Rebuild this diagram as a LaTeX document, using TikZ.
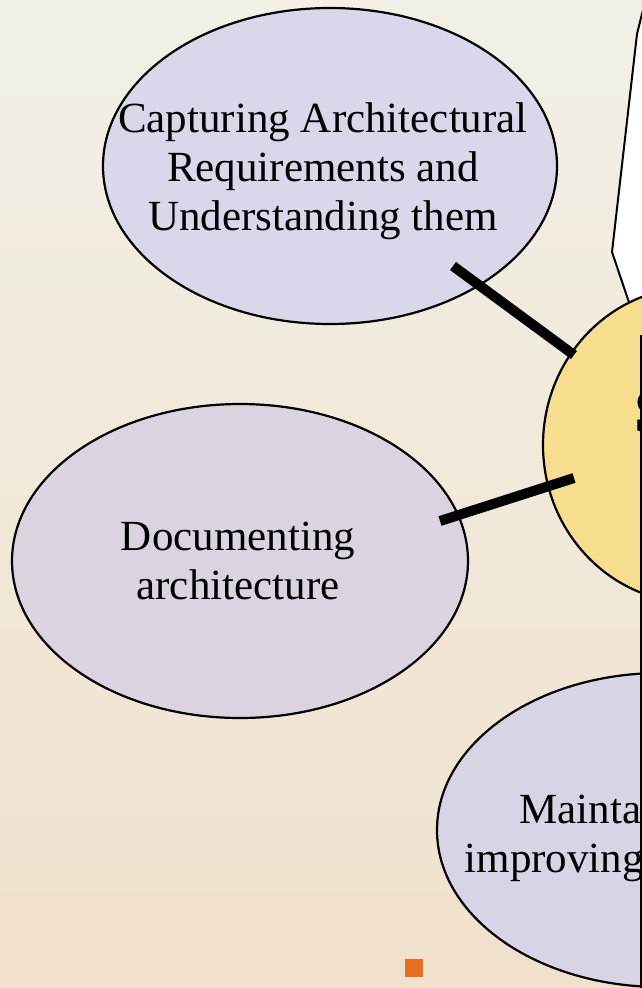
\documentclass[tikz,border=0pt]{standalone}
\usepackage{fontspec}
\setmainfont{Liberation Serif}
\usetikzlibrary{shapes.geometric}
\definecolor{bgtop}{HTML}{F2F0E7}
\definecolor{bgmid}{HTML}{EFE6D6}
\definecolor{bgbot}{HTML}{F0E1CD}
\definecolor{lavA}{HTML}{D9D7E9}
\definecolor{lavB}{HTML}{DCD3E0}
\definecolor{lavC}{HTML}{D9D4E5}
\definecolor{coreyellow}{HTML}{F7DD8E}
\definecolor{bulletorange}{HTML}{E4701E}
\begin{document}
\begin{tikzpicture}[x=1pt,y=-1pt,
  bubble/.style={ellipse, draw=black, line width=2.2pt, inner sep=0pt},
  bubbletext/.style={align=center, text=black, inner sep=0pt, font=\fontsize{43}{49}\selectfont},
  link/.style={line width=10pt, draw=black},
  edgeline/.style={line width=2pt, draw=black}]
\useasboundingbox (0,0) rectangle (642,988);
\clip (0,0) rectangle (642,988);
\shade[top color=bgtop, middle color=bgmid, bottom color=bgbot] (0,0) rectangle (642,988);

% white callout shape behind the core
\draw[edgeline, fill=white, line join=round] (646,-2) -- (637,34) -- (612,252) -- (640,335) -- (700,335) -- (700,-2) -- cycle;

% core bubble
\node[bubble, fill=coreyellow, minimum width=304, minimum height=316] (core) at (695,445) {};
\node[anchor=base west, inner sep=0pt, font=\fontsize{62}{70}\selectfont\bfseries] (coretitle) at (634,432) {Software};

% outer bubbles
\node[bubble, fill=lavA, minimum width=454, minimum height=316] (capture) at (330,166) {};
\node[bubbletext] (captureText) at (323,171) {Capturing Architectural\\Requirements and\\Understanding them};

\node[bubble, fill=lavB, minimum width=456, minimum height=314] (document) at (240,561) {};
\node[bubbletext] (documentText) at (238,561) {Documenting\\architecture};

\node[bubble, fill=lavC, minimum width=448, minimum height=314] (maintain) at (661,830) {};
\node[bubbletext] (maintainText) at (661,838) {Maintaining and\\improving architecture};

% connectors
\coordinate (capEnd) at (453,266);
\coordinate (coreTop) at (574,355);
\coordinate (docEnd) at (440,521);
\coordinate (coreLeft) at (574,478);
\draw[link] (capEnd) -- (coreTop);
\draw[link] (docEnd) -- (coreLeft);

% right frame edge
\coordinate (frameTop) at (641,335);
\coordinate (frameBot) at (641,990);
\draw[edgeline] (frameTop) -- (frameBot);

% orange bullet
\node[fill=bulletorange, minimum size=18pt, inner sep=0pt] (bullet) at (414,968) {};
\end{tikzpicture}
\end{document}
